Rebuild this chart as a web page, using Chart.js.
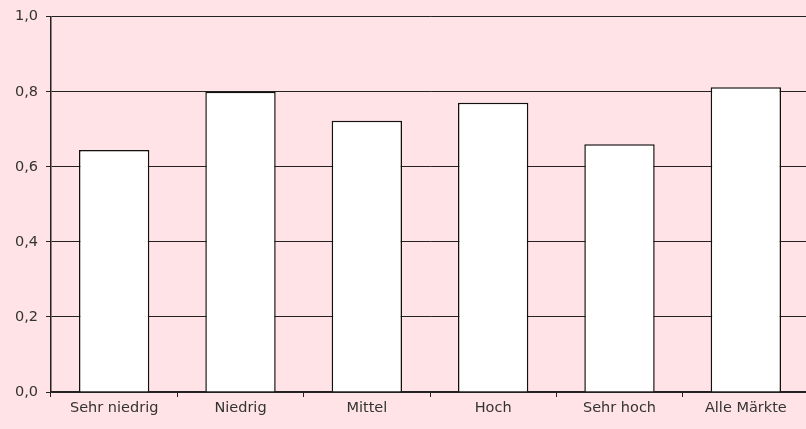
<!DOCTYPE html>
<html>
<head>
<meta charset="utf-8">
<script src="https://cdn.jsdelivr.net/npm/chart.js@4/dist/chart.umd.min.js"></script>
<style>
  html, body { margin: 0; padding: 0; background: #FFE3E6; overflow: hidden; }
  #wrap { width: 809px; height: 429px; }
</style>
</head>
<body>
<div id="wrap"><canvas id="c" width="809" height="429"></canvas></div>
<script>
// Kategorien (Marktsegmente) und Werte
const categories = ['Sehr niedrig', 'Niedrig', 'Mittel', 'Hoch', 'Sehr hoch', 'Alle Märkte'];
const values = [0.645, 0.80, 0.723, 0.771, 0.66, 0.812];
const yTicks = [0.0, 0.2, 0.4, 0.6, 0.8, 1.0];

const ink = '#222222';
const fontSpec = { family: '"DejaVu Sans", sans-serif', size: 14.5 };

new Chart(document.getElementById('c'), {
  type: 'bar',
  data: {
    labels: categories,
    datasets: [{
      data: values,
      backgroundColor: '#ffffff',
      borderColor: '#111111',
      borderWidth: 1.5,
      barPercentage: 0.557,
      categoryPercentage: 1.0
    }]
  },
  options: {
    responsive: false,
    animation: false,
    devicePixelRatio: 1,
    layout: { padding: { top: 15, right: 0, left: 0, bottom: 0 } },
    plugins: { legend: { display: false }, tooltip: { enabled: false } },
    scales: {
      x: {
        grid: { drawOnChartArea: false, drawTicks: true, tickLength: 5, color: ink, offset: true },
        border: { color: ink, width: 1.5 },
        ticks: { color: '#333', font: fontSpec, padding: 3, maxRotation: 0 },
        afterFit: s => { s.height = 37; }
      },
      y: {
        min: 0,
        max: 1,
        afterBuildTicks: s => { s.ticks = yTicks.map(v => ({ value: v })); },
        grid: { color: ink, lineWidth: 1, tickLength: 5 },
        border: { color: ink, width: 1.5 },
        ticks: {
          color: '#333',
          font: fontSpec,
          padding: 8,
          callback: v => Number(v).toFixed(1).replace('.', ',')
        },
        afterFit: s => { s.width = 51; }
      }
    }
  }
});
</script>
</body>
</html>
